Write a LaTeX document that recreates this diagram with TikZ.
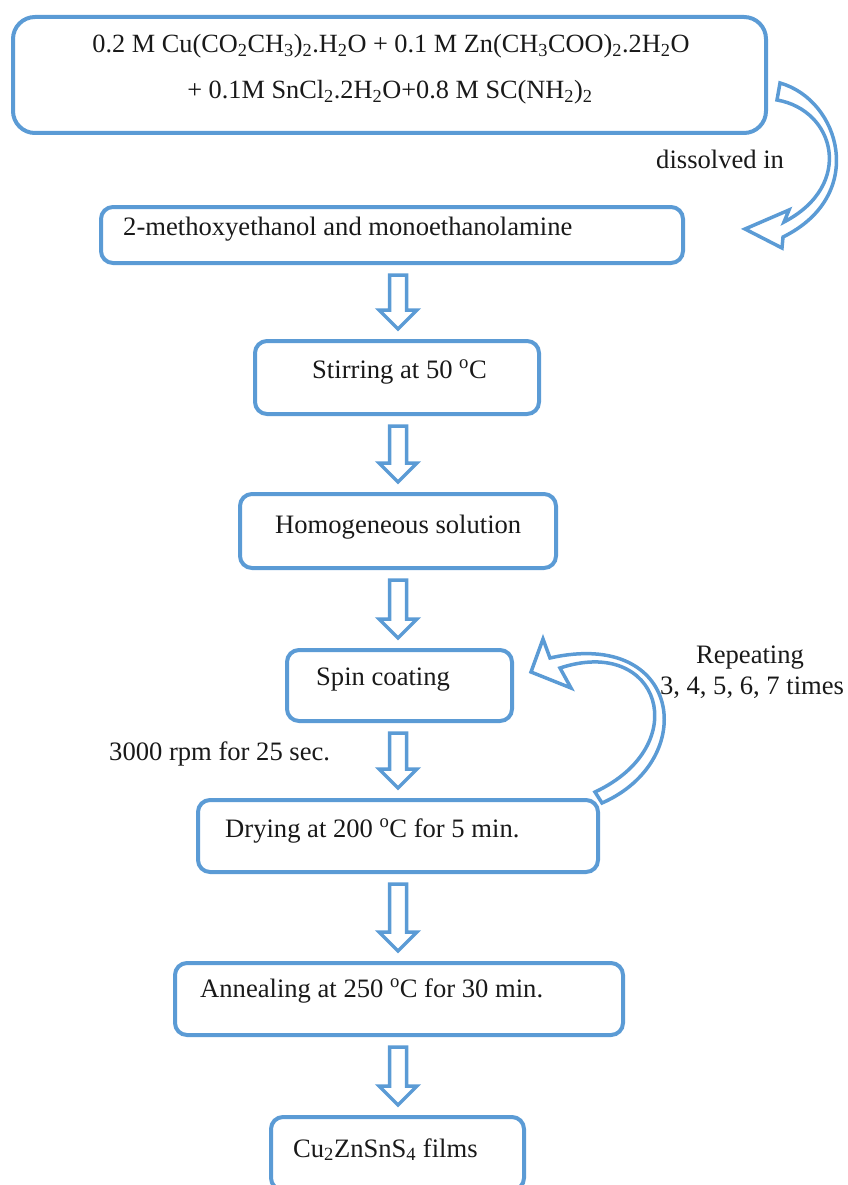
\documentclass[tikz,border=0pt]{standalone}
\usepackage{fontspec}
\setmainfont{Liberation Serif}
\usetikzlibrary{calc}
\definecolor{ablue}{RGB}{91,155,213}
\newcommand\blkarr[2]{%
  \draw[blockarr] let \p1=($(#1.south)+(0,10)$), \p2=($(#2.north)+(0,-10)$) in
    (389.5pt,\y1) -- (406.5pt,\y1) -- (406.5pt,\y2+19pt) -- (417pt,\y2+19pt) -- (398pt,\y2)
    -- (379pt,\y2+19pt) -- (389.5pt,\y2+19pt) -- cycle;}
\begin{document}
\begin{tikzpicture}[x=1pt,y=-1pt,
  box/.style={draw=ablue, line width=4pt, rounded corners=12pt, inner sep=0pt},
  lbl/.style={anchor=base west, inner sep=0pt, text=black!90, font=\fontsize{26.6}{31}\selectfont},
  blockarr/.style={draw=ablue, line width=3.5pt, line join=miter}]
\useasboundingbox (0,0) rectangle (847,1185);
\clip (0,0) rectangle (847,1185);
% boxes
\node[box, rounded corners=22pt, minimum width=753pt, minimum height=116pt] (b1) at (389.5,75) {};
\node[box, minimum width=582pt, minimum height=56pt] (b2) at (392,235) {};
\node[box, minimum width=284pt, minimum height=73pt] (b3) at (397,377.5) {};
\node[box, minimum width=316pt, minimum height=74pt] (b4) at (398,531) {};
\node[box, minimum width=225pt, minimum height=71pt] (b5) at (399.5,685.5) {};
\node[box, minimum width=400pt, minimum height=72pt] (b6) at (398,836) {};
\node[box, minimum width=448pt, minimum height=72pt] (b7) at (399,999) {};
\node[box, minimum width=253pt, minimum height=73pt] (b8) at (397.5,1153.5) {};
% texts
\node[lbl, anchor=base, font=\fontsize{26.3}{31}\selectfont] (t1a) at (391,53) {0.2 M Cu(CO\textsubscript{2}CH\textsubscript{3})\textsubscript{2}.H\textsubscript{2}O + 0.1 M Zn(CH\textsubscript{3}COO)\textsubscript{2}.2H\textsubscript{2}O};
\node[lbl, anchor=base, font=\fontsize{26.3}{31}\selectfont] (t1b) at (390,99) {+ 0.1M SnCl\textsubscript{2}.2H\textsubscript{2}O+0.8 M SC(NH\textsubscript{2})\textsubscript{2}};
\node[lbl] (dis) at (656,169) {dissolved in};
\node[lbl] (t2) at (123,235) {2-methoxyethanol and monoethanolamine};
\node[lbl] (t3) at (312,378) {Stirring at 50 \textsuperscript{o}C};
\node[lbl] (t4) at (275,533) {Homogeneous solution};
\node[lbl] (t5) at (316,685) {Spin coating};
\node[lbl] (rpm) at (109,760) {3000 rpm for 25 sec.};
\node[lbl] (t6) at (225,837) {Drying at 200 \textsuperscript{o}C for 5 min.};
\node[lbl] (t7) at (200,997) {Annealing at 250 \textsuperscript{o}C for 30 min.};
\node[lbl] (t8) at (293,1157) {Cu\textsubscript{2}ZnSnS\textsubscript{4} films};
\node[lbl, anchor=base] (rep1) at (750,663) {Repeating};
\node[lbl, anchor=base] (rep2) at (752,694) {3, 4, 5, 6, 7 times};
% straight block arrows
\blkarr{b2}{b3}
\blkarr{b3}{b4}
\blkarr{b4}{b5}
\blkarr{b5}{b6}
\blkarr{b6}{b7}
\blkarr{b7}{b8}
% curved arrow: dissolved in
\draw[blockarr] (780,83) .. controls (840,100) and (868,195) .. (783,237)
  -- (782,248) -- (745,229) -- (789,210) -- (784,222)
  .. controls (855,185) and (835,110) .. (777,100) -- cycle;
% curved arrow: repeating
\draw[blockarr] (602,803) .. controls (700,760) and (682,628) .. (550,658)
  -- (543,639) -- (531,672) -- (571,688) -- (560,668)
  .. controls (660,635) and (695,745) .. (595,792) -- cycle;
\end{tikzpicture}
\end{document}
